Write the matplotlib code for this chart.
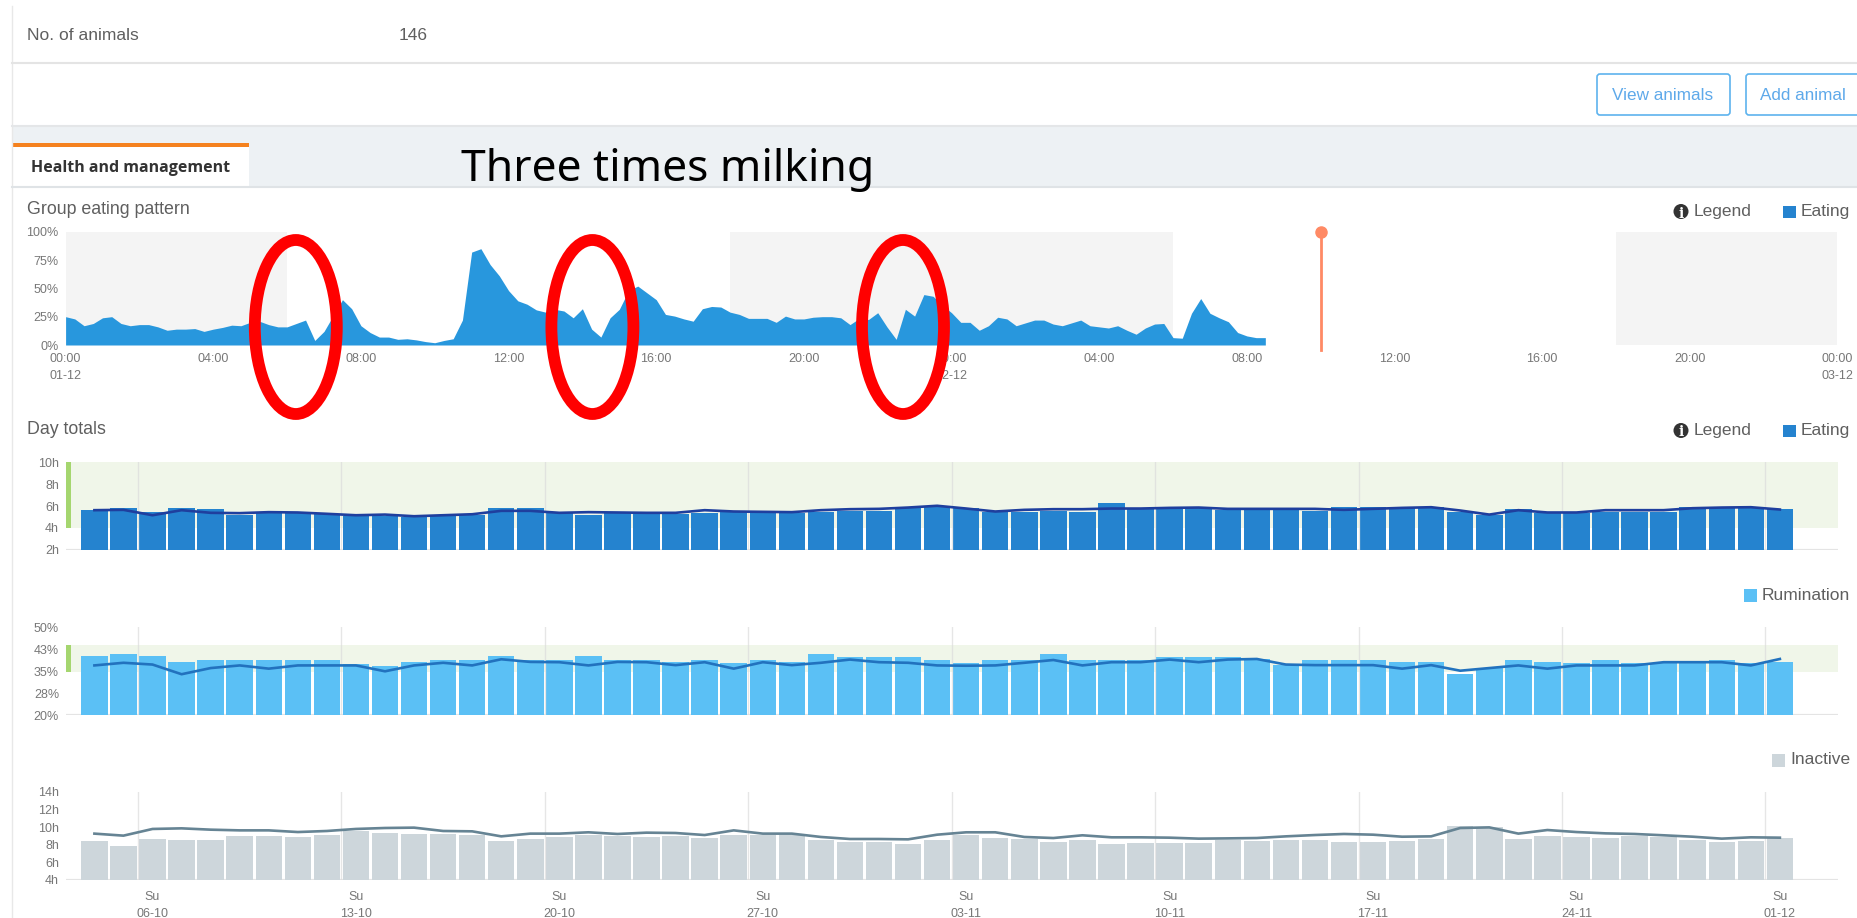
import numpy as np
import matplotlib
matplotlib.use('Agg')
import matplotlib.pyplot as plt
from matplotlib.patches import Ellipse, Rectangle, FancyBboxPatch, Circle

W, H = 1857, 918
plt.rcParams['font.family'] = ['Liberation Sans', 'DejaVu Sans']

# eating pattern, one value every 15 minutes from 00:00 on 01-12
pattern = [25, 23, 17, 19, 24, 25, 19, 17, 18, 18, 16, 13, 14, 14, 14.5, 12, 14, 15.5, 17.5, 17,
           20, 21, 18, 16, 16, 19, 22, 4, 12, 26, 40, 32, 17, 11, 7, 7, 5, 5.5, 4.5, 3,
           2, 4, 5.5, 22, 82, 85, 71, 61, 48, 39, 36, 31, 29, 31.5, 30, 24, 32, 14, 7, 24,
           31.5, 48, 52, 46, 40, 27, 25.5, 23, 21, 32, 34, 33.5, 29, 27, 23.5, 23.5, 23.5, 20, 25.5, 23,
           23, 24.5, 25, 25, 24, 18, 23.5, 22.5, 28.5, 16, 5, 31.5, 25.5, 44.5, 43, 35, 28.5, 20, 20, 13,
           17, 24.5, 23, 17, 19.5, 22, 22, 18.5, 17, 19.5, 22, 17, 16, 15, 17, 13, 9.5, 15, 18.5, 19,
           6.5, 6, 28, 41, 28, 24, 20.5, 11, 8, 6.5, 6.5]
pattern_ticks = ['00:00\n01-12', '04:00', '08:00', '12:00', '16:00', '20:00', '00:00\n02-12',
                 '04:00', '08:00', '12:00', '16:00', '20:00', '00:00\n03-12']
night_spans = [(0, 6), (18, 30), (42, 48)]
now_hour = 34

# day totals, 04-10 to 01-12
eating_bars = [5.65, 5.80, 5.41, 5.86, 5.77, 5.19, 5.35, 5.35, 5.25, 5.10, 5.13, 4.98, 5.13, 5.22, 5.80,
               5.80, 5.41, 5.19, 5.35, 5.29, 5.25, 5.35, 5.41, 5.35, 5.38, 5.50, 5.56, 5.53, 5.80, 5.95,
               5.80, 5.41, 5.50, 5.56, 5.50, 6.26, 5.80, 5.89, 5.89, 5.65, 5.62, 5.62, 5.59, 5.95, 5.89,
               5.89, 5.89, 5.44, 5.16, 5.71, 5.35, 5.32, 5.50, 5.44, 5.44, 5.89, 5.89, 5.89, 5.71]
eating_line = [5.62, 5.65, 5.16, 5.62, 5.38, 5.35, 5.44, 5.41, 5.29, 5.16, 5.22, 5.07, 5.16, 5.25, 5.56,
               5.56, 5.38, 5.44, 5.41, 5.38, 5.38, 5.62, 5.50, 5.47, 5.44, 5.62, 5.71, 5.74, 5.86, 6.02,
               5.77, 5.50, 5.65, 5.71, 5.71, 5.77, 5.77, 5.83, 5.86, 5.74, 5.74, 5.74, 5.74, 5.65, 5.74,
               5.83, 5.89, 5.59, 5.22, 5.62, 5.41, 5.41, 5.62, 5.62, 5.62, 5.80, 5.86, 5.89, 5.68]
rumination_bars = [40.0, 40.9, 40.0, 38.0, 38.9, 38.9, 38.9, 38.9, 38.9, 37.4, 36.8, 38.0, 38.9, 38.9, 40.0,
                   38.9, 38.9, 40.0, 38.9, 38.9, 38.0, 38.9, 37.7, 38.9, 38.0, 40.9, 39.9, 39.9, 39.9, 38.9,
                   37.7, 38.9, 38.9, 40.9, 38.9, 38.6, 38.9, 39.9, 39.9, 39.9, 39.1, 37.2, 38.9, 38.9, 38.9,
                   38.0, 38.0, 34.1, 36.0, 38.9, 38.0, 37.7, 38.9, 37.7, 37.7, 37.7, 38.9, 37.7, 38.0]
rumination_line = [36.9, 37.8, 37.2, 33.9, 36.0, 36.9, 35.8, 36.9, 36.9, 36.9, 34.9, 36.9, 37.8, 36.9, 39.0,
                   38.1, 38.0, 36.9, 38.1, 38.0, 37.0, 38.0, 35.8, 38.0, 37.0, 37.8, 38.9, 38.0, 37.8, 36.9,
                   36.8, 36.9, 37.8, 38.75, 36.9, 38.0, 38.0, 38.9, 38.0, 38.9, 39.1, 37.2, 37.0, 37.0, 37.0,
                   35.8, 37.0, 35.1, 36.0, 36.9, 35.8, 36.9, 36.9, 36.9, 38.0, 38.0, 38.0, 36.9, 39.1]
inactive_bars = [8.39, 7.83, 8.66, 8.58, 8.58, 9.04, 9.00, 8.92, 9.11, 9.53, 9.30, 9.27, 9.23, 9.15, 8.39,
                 8.66, 8.89, 9.08, 9.04, 8.92, 9.04, 8.73, 9.08, 9.08, 9.08, 8.51, 8.36, 8.32, 8.09, 8.58,
                 9.15, 8.77, 8.70, 8.28, 8.51, 8.09, 8.24, 8.24, 8.24, 8.58, 8.47, 8.55, 8.58, 8.36, 8.36,
                 8.39, 8.62, 10.10, 10.02, 8.70, 9.04, 8.89, 8.77, 8.96, 8.89, 8.55, 8.36, 8.39, 8.73]
inactive_line = [9.27, 9.04, 9.80, 9.87, 9.72, 9.64, 9.64, 9.45, 9.57, 9.80, 9.91, 9.95, 9.57, 9.53, 8.96,
                 9.27, 9.27, 9.42, 9.23, 9.38, 9.34, 9.11, 9.64, 9.27, 9.27, 8.89, 8.66, 8.66, 8.62, 9.15,
                 9.42, 9.42, 8.89, 8.77, 9.08, 8.85, 8.85, 8.81, 8.70, 8.73, 8.77, 8.96, 9.11, 9.23, 9.15,
                 8.92, 8.96, 9.91, 9.98, 9.27, 9.68, 9.45, 9.30, 9.23, 9.08, 8.92, 8.70, 8.85, 8.81]
sunday_index = [2, 9, 16, 23, 30, 37, 44, 51, 58]
sunday_labels = ['06-10', '13-10', '20-10', '27-10', '03-11', '10-11', '17-11', '24-11', '01-12']

TEXT = '#5f5f5f'
TICK = '#777777'
GREEN = '#f0f6e9'


def ejes_px(fig, left, top, right, bottom):
    return fig.add_axes([left / W, 1 - bottom / H, (right - left) / W, (bottom - top) / H])


def limpiar(ax):
    ax.patch.set_alpha(0)
    for s in ax.spines.values():
        s.set_visible(False)
    ax.tick_params(length=0, labelsize=9, labelcolor=TICK, pad=5)


def day_chart(fig, top, bottom, bars, line, ymin, ymax, yticks, ylabels, color, line_color, band=None):
    ax = ejes_px(fig, 66, top, 1838, bottom)
    limpiar(ax)
    # x in bar index: bar 0 centred at 94.4 px, one day is 29.06 px
    ax.set_xlim((66 - 94.4) / 29.06, (1838 - 94.4) / 29.06)
    ax.set_ylim(ymin, ymax)
    if band:
        ax.axhspan(band[0], band[1], xmin=4.5 / 1772, color=GREEN, lw=0, zorder=0)
        ax.axhspan(band[0], band[1], xmax=4.5 / 1772, color='#a5d66f', lw=0, zorder=1)
    ax.axhline(ymin, color='#e4e4e4', lw=1.6, zorder=1)
    x = np.arange(len(bars))
    ax.bar(x, np.array(bars) - ymin, bottom=ymin, width=0.91, color=color, zorder=2)
    for i in sunday_index:
        ax.axvline(i - 0.5, color='#dcdcdc', lw=1, alpha=0.7, zorder=3)
    ax.plot(x, line, color=line_color, lw=1.9, zorder=4)
    ax.set_yticks(yticks)
    ax.set_yticklabels(ylabels)
    ax.set_xticks([])
    return ax


fig = plt.figure(figsize=(W / 100, H / 100), dpi=100, facecolor='white')

# group eating pattern
ax0 = ejes_px(fig, 65.6, 231.7, 1837.5, 345)
limpiar(ax0)
ax0.set_xlim(0, 48)
ax0.set_ylim(0, 100)
for a, b in night_spans:
    ax0.axvspan(a, b, color='#f4f4f4', lw=0, zorder=0)
horas = np.arange(len(pattern)) * 0.25
ax0.fill_between(horas, pattern, 0, color='#2897dd', lw=0, zorder=2)
ax0.plot([now_hour, now_hour], [-4.4, 100], color='#ff8a65', lw=2, clip_on=False, zorder=3)
ax0.plot([now_hour], [100], 'o', color='#ff8a65', ms=8, clip_on=False, zorder=3)
ax0.set_yticks([0, 25, 50, 75, 100])
ax0.set_yticklabels(['0%', '25%', '50%', '75%', '100%'])
ax0.set_xticks(np.arange(0, 49, 4))
ax0.set_xticklabels(pattern_ticks, linespacing=1.55)
ax0.tick_params(axis='x', pad=6)

# day totals
day_chart(fig, 462, 550, eating_bars, eating_line, 2, 10, [2, 4, 6, 8, 10],
          ['2h', '4h', '6h', '8h', '10h'], '#2583cf', '#1f3f9e', band=(4, 10))
day_chart(fig, 627, 715, rumination_bars, rumination_line, 20, 50, [20, 27.5, 35, 42.5, 50],
          ['20%', '28%', '35%', '43%', '50%'], '#5bc0f5', '#2272be', band=(34.7, 43.7))
ax3 = day_chart(fig, 792, 880, inactive_bars, inactive_line, 4, 14, [4, 6, 8, 10, 12, 14],
                ['4h', '6h', '8h', '10h', '12h', '14h'], '#cdd6db', '#668494')
ax3.set_xticks(sunday_index)
ax3.set_xticklabels(['Su\n' + s for s in sunday_labels], linespacing=1.5)
ax3.tick_params(axis='x', pad=8)

# page around the charts, in pixels
page = fig.add_axes([0, 0, 1, 1], zorder=10)
page.set_xlim(0, W)
page.set_ylim(H, 0)
page.axis('off')
page.patch.set_alpha(0)

page.plot([11.5, 11.5], [6, H], color='#e8e8e8', lw=1)
page.plot([12, W], [62.5, 62.5], color='#e4e4e4', lw=1.5)
page.add_patch(Rectangle((12, 126), W - 12, 61, facecolor='#edf1f4', edgecolor='none'))
page.plot([12, W], [126, 126], color='#e4e6e8', lw=1.5)
page.plot([12, W], [187, 187], color='#dfe3e6', lw=1.5)
page.add_patch(Rectangle((12, 146), 236.5, 43, facecolor='white', edgecolor='none'))
page.add_patch(Rectangle((12, 143), 236.5, 4, facecolor='#f5821f', edgecolor='none'))

page.text(27, 35, 'No. of animals', fontsize=12.5, color=TEXT, va='center')
page.text(399, 35, '146', fontsize=12.5, color=TEXT, va='center')
page.text(31, 168, 'Health and management', fontsize=11.5, color='#333333', va='center',
          fontweight='bold', family=['Open Sans', 'DejaVu Sans'])
page.text(461, 170, 'Three times milking', fontsize=32, color='black', va='center',
          family=['Noto Sans', 'DejaVu Sans'])

for x0, x1, label in [(1597, 1730, 'View animals'), (1746, 1890, 'Add animal')]:
    page.add_patch(FancyBboxPatch((x0, 74), x1 - x0, 41, boxstyle='round,pad=0,rounding_size=3',
                                  facecolor='white', edgecolor='#5db3ee', lw=1.2))
    page.text(x0 + 14.5, 95, label, fontsize=12.3, color='#5ea9ea', va='center')

page.text(27, 210, 'Group eating pattern', fontsize=12.8, color=TEXT, va='center')
page.text(27, 429, 'Day totals', fontsize=12.8, color=TEXT, va='center')

for y in [211.5, 430.5]:
    page.add_patch(Circle((1681, y), 7.5, facecolor='#333333', edgecolor='none'))
    page.text(1681, y + 0.5, 'i', fontsize=10, color='white', fontweight='bold', ha='center',
              va='center_baseline', family=['DejaVu Serif'])
    page.text(1694, y, 'Legend', fontsize=12.5, color=TEXT, va='center')

for x, y, color, label in [(1783, 211.5, '#2583cf', 'Eating'), (1783, 430.5, '#2583cf', 'Eating'),
                           (1744, 595, '#5bc0f5', 'Rumination'), (1772, 760, '#cdd6db', 'Inactive')]:
    page.add_patch(Rectangle((x, y - 6), 12.5, 12.5, facecolor=color, edgecolor='none'))
    page.text(x + 18, y, label, fontsize=12.5, color=TEXT, va='center')

for cx in [295.8, 592.4, 903]:
    page.add_patch(Ellipse((cx, 327), 82, 174, facecolor='none', edgecolor='#ff0000', lw=8.5))

fig.savefig('out.png', dpi=100)
